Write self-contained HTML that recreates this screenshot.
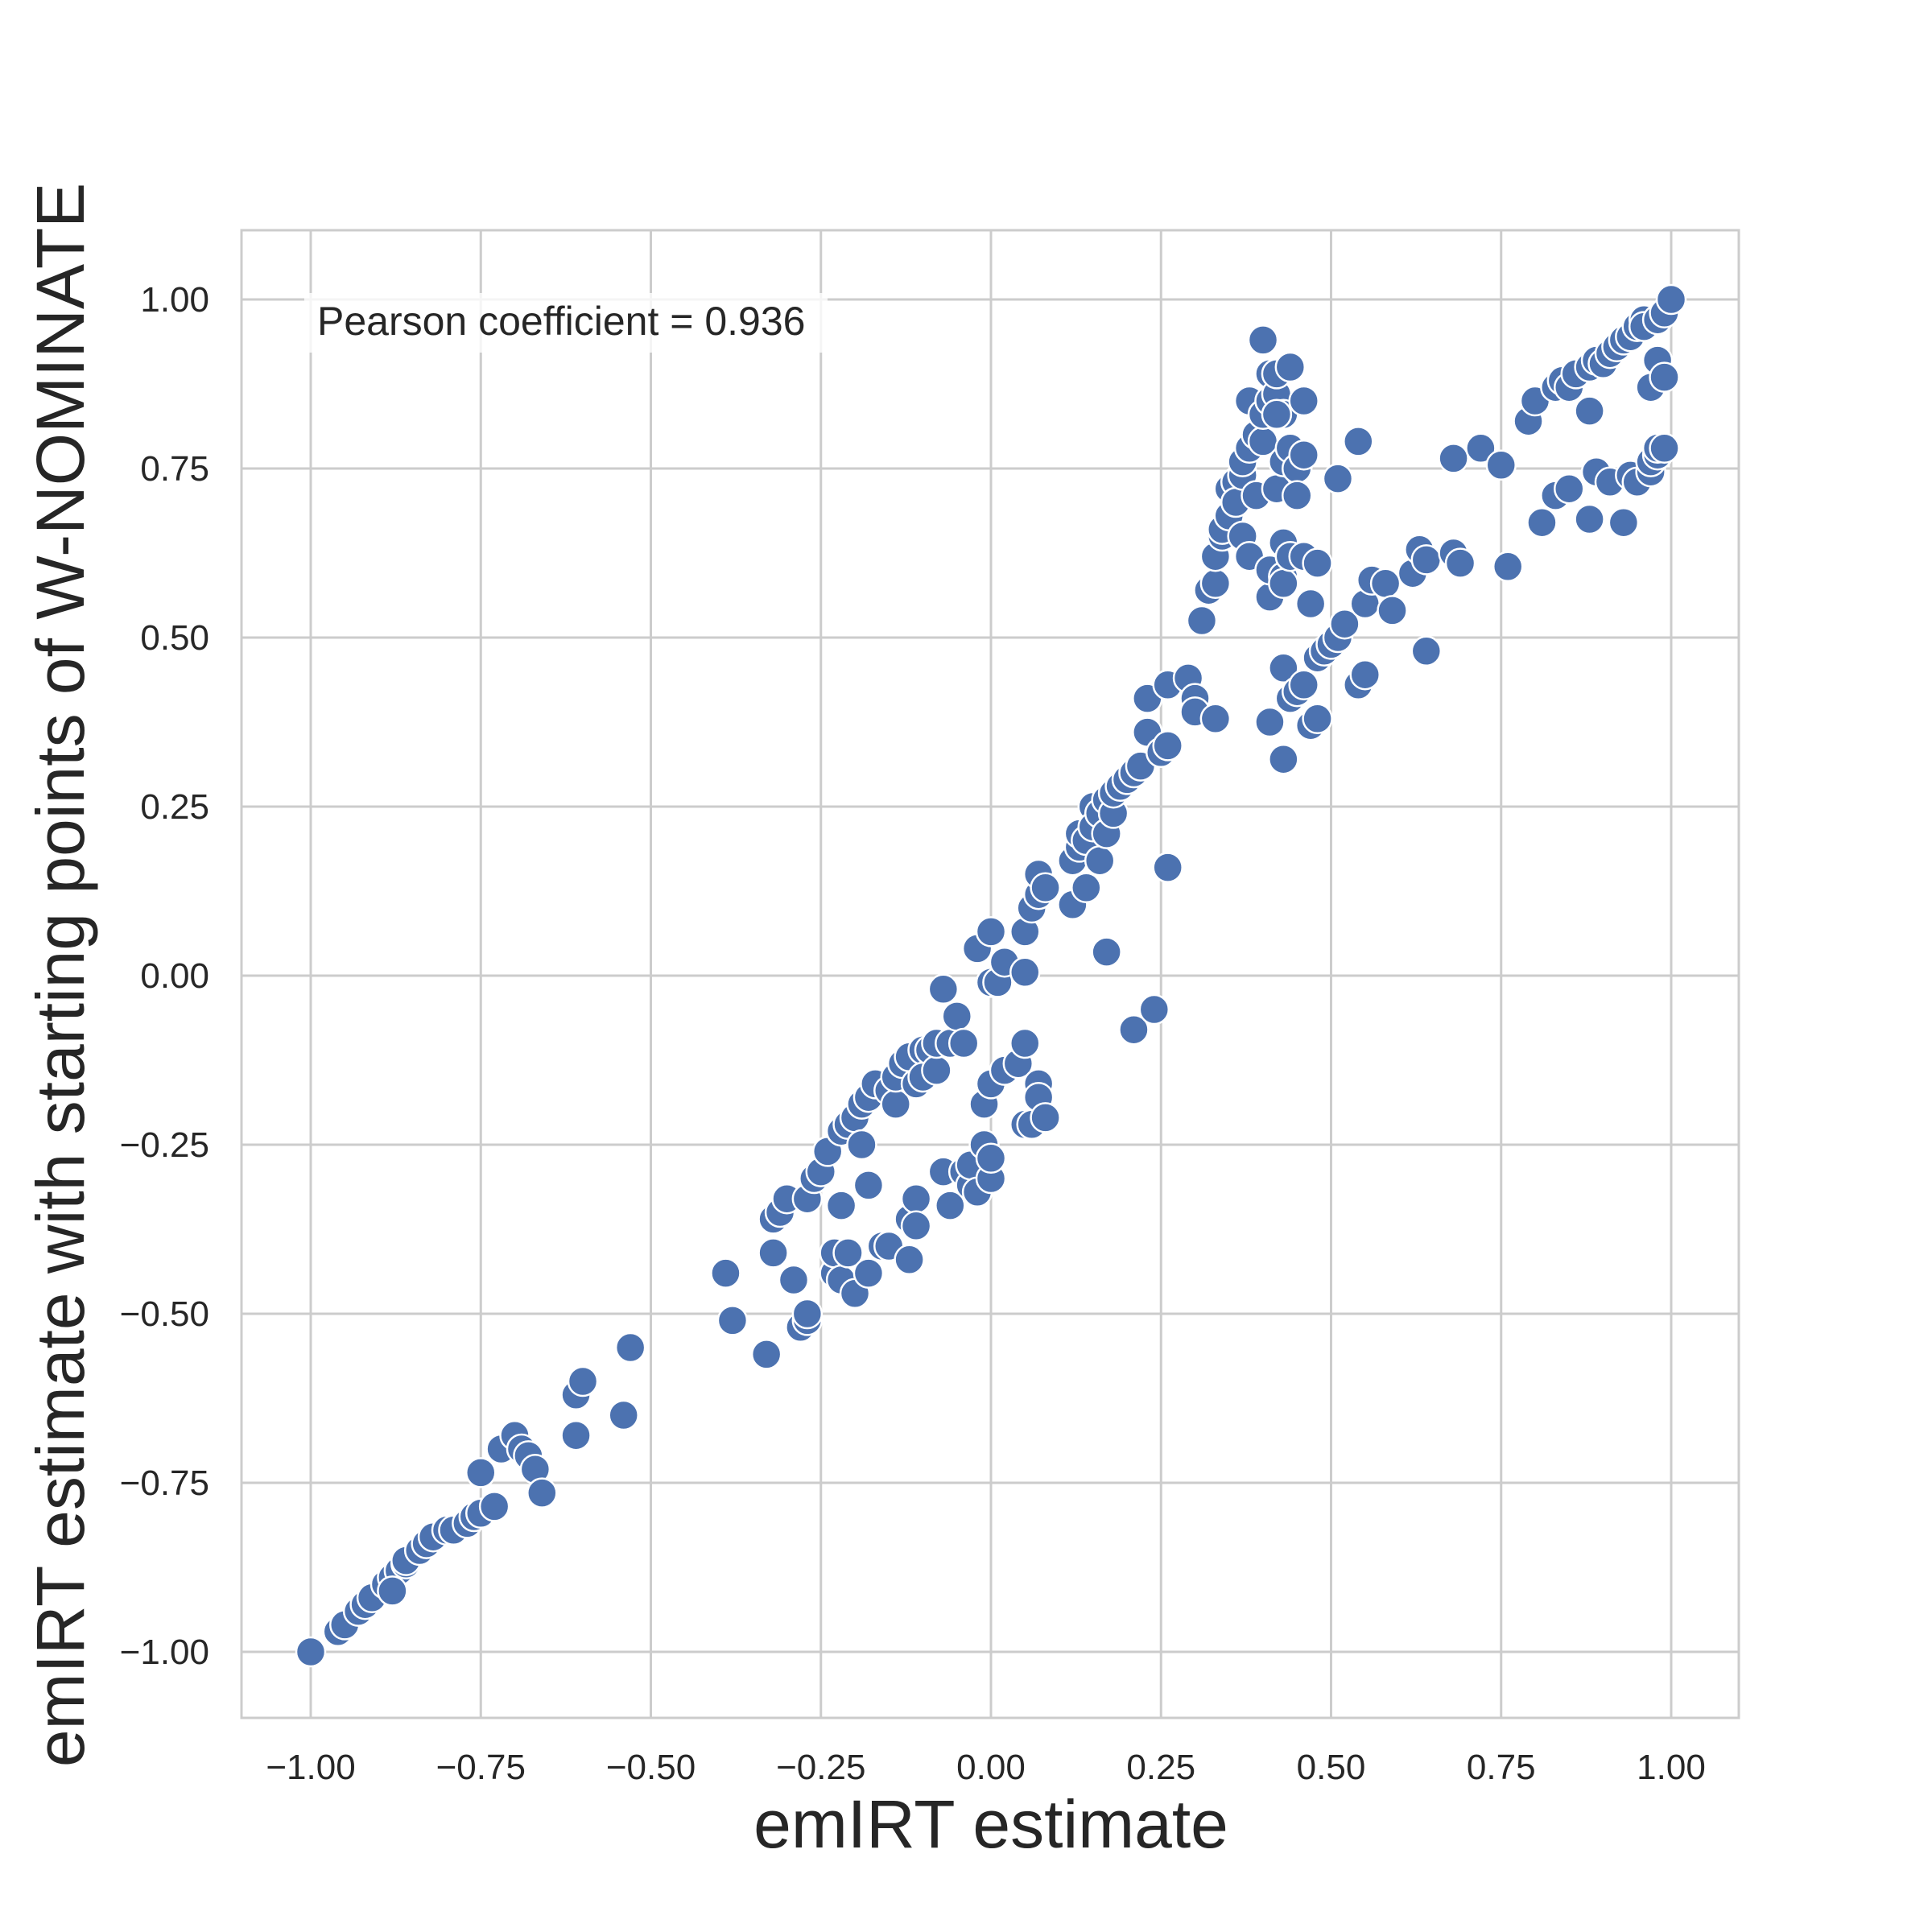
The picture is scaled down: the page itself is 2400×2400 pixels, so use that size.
<!DOCTYPE html>
<html><head><meta charset="utf-8"><style>
html,body{margin:0;padding:0;background:#fff;}
svg{display:block;font-family:"Liberation Sans",Arial,sans-serif;}
</style></head><body>
<svg id="chart" width="2400" height="2400" viewBox="0 0 2400 2400">
<rect x="0" y="0" width="2400" height="2400" fill="#fff"/>
<g id="grid"></g>
<g id="points"></g>
<rect x="300" y="286" width="1860" height="1848" fill="none" stroke="#cccccc" stroke-width="3"/>
<g id="xticks"></g>
<g id="yticks"></g>
<rect x="378" y="364" width="650" height="74" fill="#fff" fill-opacity="0.8"/>
<text x="394" y="416" font-size="50" fill="#262626">Pearson coefficient = 0.936</text>
<text x="1231" y="2295" font-size="84" fill="#262626" text-anchor="middle">emIRT estimate</text>
<text transform="translate(104,1211) rotate(-90)" font-size="84" fill="#262626" text-anchor="middle">emIRT estimate with starting points of W-NOMINATE</text>
</svg>
<script>
const xTicks=[-1,-0.75,-0.5,-0.25,0,0.25,0.5,0.75,1];
const yTicks=[-1,-0.75,-0.5,-0.25,0,0.25,0.5,0.75,1];
const xTickLabels=["\u22121.00","\u22120.75","\u22120.50","\u22120.25","0.00","0.25","0.50","0.75","1.00"];
const yTickLabels=["\u22121.00","\u22120.75","\u22120.50","\u22120.25","0.00","0.25","0.50","0.75","1.00"];
const xVals=[-1,-0.96,-0.95,-0.93,-0.92,-0.91,-0.89,-0.88,-0.87,-0.88,-0.86,-0.86,-0.84,-0.83,-0.82,-0.80,-0.79,-0.77,-0.76,-0.75,-0.73,-0.75,-0.72,-0.70,-0.69,-0.68,-0.67,-0.66,-0.61,-0.61,-0.60,-0.53,-0.54,-0.39,-0.38,-0.33,-0.32,-0.32,-0.31,-0.30,-0.29,-0.28,-0.27,-0.27,-0.27,-0.26,-0.25,-0.24,-0.23,-0.23,-0.22,-0.22,-0.22,-0.21,-0.21,-0.20,-0.20,-0.19,-0.18,-0.19,-0.18,-0.18,-0.17,-0.16,-0.15,-0.15,-0.14,-0.14,-0.13,-0.12,-0.12,-0.12,-0.11,-0.11,-0.11,-0.10,-0.10,-0.09,-0.08,-0.08,-0.07,-0.07,-0.06,-0.06,-0.05,-0.04,-0.04,-0.03,-0.03,-0.02,-0.02,-0.01,-0.01,0.00,0.00,0.00,0.00,0.00,0.01,0.02,0.02,0.04,0.05,0.05,0.05,0.05,0.06,0.07,0.07,0.08,0.06,0.07,0.07,0.08,0.12,0.12,0.13,0.13,0.14,0.14,0.15,0.15,0.16,0.16,0.17,0.17,0.18,0.18,0.19,0.20,0.21,0.22,0.23,0.23,0.25,0.26,0.26,0.29,0.30,0.30,0.33,0.17,0.21,0.24,0.26,
0.31,0.32,0.33,0.33,0.34,0.34,0.35,0.35,0.36,0.36,0.37,0.37,0.37,0.38,0.38,0.38,0.39,0.39,0.40,0.40,0.40,0.41,0.41,0.41,0.41,0.42,0.42,0.42,0.43,0.43,0.43,0.43,0.43,0.44,0.44,0.45,0.45,0.46,0.46,0.46,0.47,0.48,0.42,0.44,
0.41,0.43,0.43,0.44,0.45,0.46,0.47,0.48,0.48,0.49,0.50,0.51,0.52,0.54,0.55,0.55,0.56,0.58,0.59,0.62,0.63,0.64,0.64,0.68,0.69,0.76,0.81,0.83,0.85,0.88,0.89,0.91,0.93,0.94,0.95,0.97,0.97,0.98,0.98,0.99,
0.51,0.54,0.68,0.72,0.75,
0.79,0.80,0.83,0.84,0.85,0.86,0.88,0.88,0.89,0.90,0.91,0.92,0.93,0.94,0.95,0.96,0.96,0.97,0.98,0.98,0.99,0.99,1.0];
const yVals=[-1,-0.97,-0.96,-0.94,-0.93,-0.92,-0.90,-0.89,-0.88,-0.91,-0.87,-0.865,-0.85,-0.84,-0.83,-0.82,-0.82,-0.81,-0.80,-0.795,-0.785,-0.735,-0.70,-0.68,-0.70,-0.71,-0.73,-0.765,-0.68,-0.62,-0.60,-0.55,-0.65,-0.44,-0.51,-0.56,-0.41,-0.36,-0.35,-0.33,-0.45,-0.52,-0.51,-0.50,-0.33,-0.30,-0.29,-0.26,-0.44,-0.41,-0.34,-0.45,-0.23,-0.22,-0.41,-0.21,-0.47,-0.19,-0.18,-0.25,-0.31,-0.44,-0.16,-0.40,-0.40,-0.17,-0.19,-0.15,-0.13,-0.12,-0.42,-0.36,-0.33,-0.37,-0.16,-0.11,-0.15,-0.11,-0.14,-0.10,-0.29,-0.02,-0.34,-0.10,-0.06,-0.10,-0.29,-0.31,-0.28,-0.32,0.04,-0.25,-0.19,-0.30,-0.27,-0.16,-0.01,0.065,-0.01,0.02,-0.14,-0.13,-0.10,0.065,0.005,-0.22,-0.22,-0.16,-0.18,-0.21,0.10,0.12,0.15,0.13,0.105,0.17,0.19,0.21,0.13,0.20,0.25,0.22,0.17,0.24,0.26,0.21,0.24,0.27,0.28,0.29,0.30,0.31,0.36,0.41,0.33,0.34,0.43,0.44,0.41,0.39,0.38,0.035,-0.08,-0.05,0.16,
0.525,0.57,0.58,0.62,0.65,0.66,0.68,0.72,0.73,0.70,0.74,0.76,0.65,0.78,0.85,0.62,0.80,0.71,0.79,0.94,0.83,0.85,0.89,0.56,0.60,0.86,0.72,0.89,0.64,0.59,0.58,0.76,0.83,0.78,0.62,0.75,0.71,0.85,0.77,0.62,0.55,0.61,0.83,0.90,
0.375,0.32,0.455,0.41,0.42,0.43,0.37,0.38,0.47,0.48,0.49,0.50,0.52,0.43,0.445,0.55,0.585,0.58,0.54,0.595,0.63,0.48,0.615,0.625,0.61,0.605,0.67,0.71,0.72,0.675,0.745,0.73,0.67,0.74,0.73,0.745,0.76,0.77,0.78,0.78,
0.735,0.79,0.765,0.78,0.755,
0.82,0.85,0.87,0.88,0.87,0.89,0.835,0.90,0.91,0.905,0.92,0.93,0.94,0.945,0.96,0.97,0.96,0.87,0.91,0.97,0.885,0.98,1.0];

const NS='http://www.w3.org/2000/svg';
const X0=386,X1=2076,Y0=2052,Y1=372;
function sx(v){return X0+(v+1)/2*(X1-X0);}
function sy(v){return Y0-(v+1)/2*(Y0-Y1);}
const grid=document.getElementById('grid');
const xt=document.getElementById('xticks');
const yt=document.getElementById('yticks');
xTicks.forEach((t,i)=>{
  const l=document.createElementNS(NS,'line');
  l.setAttribute('x1',sx(t));l.setAttribute('x2',sx(t));l.setAttribute('y1',286);l.setAttribute('y2',2134);
  l.setAttribute('stroke','#cccccc');l.setAttribute('stroke-width','3');
  
  
  grid.appendChild(l);
  const tx=document.createElementNS(NS,'text');
  tx.setAttribute('x',sx(t));tx.setAttribute('y',2210);tx.setAttribute('text-anchor','middle');
  tx.setAttribute('font-size','44');tx.setAttribute('fill','#262626');
  tx.textContent=xTickLabels[i];
  
  
  xt.appendChild(tx);
});
yTicks.forEach((t,i)=>{
  const l=document.createElementNS(NS,'line');
  l.setAttribute('y1',sy(t));l.setAttribute('y2',sy(t));l.setAttribute('x1',300);l.setAttribute('x2',2160);
  l.setAttribute('stroke','#cccccc');l.setAttribute('stroke-width','3');
  
  
  grid.appendChild(l);
  const tx=document.createElementNS(NS,'text');
  tx.setAttribute('x',260);tx.setAttribute('y',sy(t)+15);tx.setAttribute('text-anchor','end');
  tx.setAttribute('font-size','44');tx.setAttribute('fill','#262626');
  tx.textContent=yTickLabels[i];
  
  
  yt.appendChild(tx);
});
const pts=document.getElementById('points');
for(let i=0;i<xVals.length;i++){
  const c=document.createElementNS(NS,'circle');
  c.setAttribute('cx',sx(xVals[i]));c.setAttribute('cy',sy(yVals[i]));c.setAttribute('r','18');
  c.setAttribute('fill','#4c72b0');c.setAttribute('stroke','#ffffff');c.setAttribute('stroke-width','2.5');
  
  
  pts.appendChild(c);
}
</script>
</body></html>
